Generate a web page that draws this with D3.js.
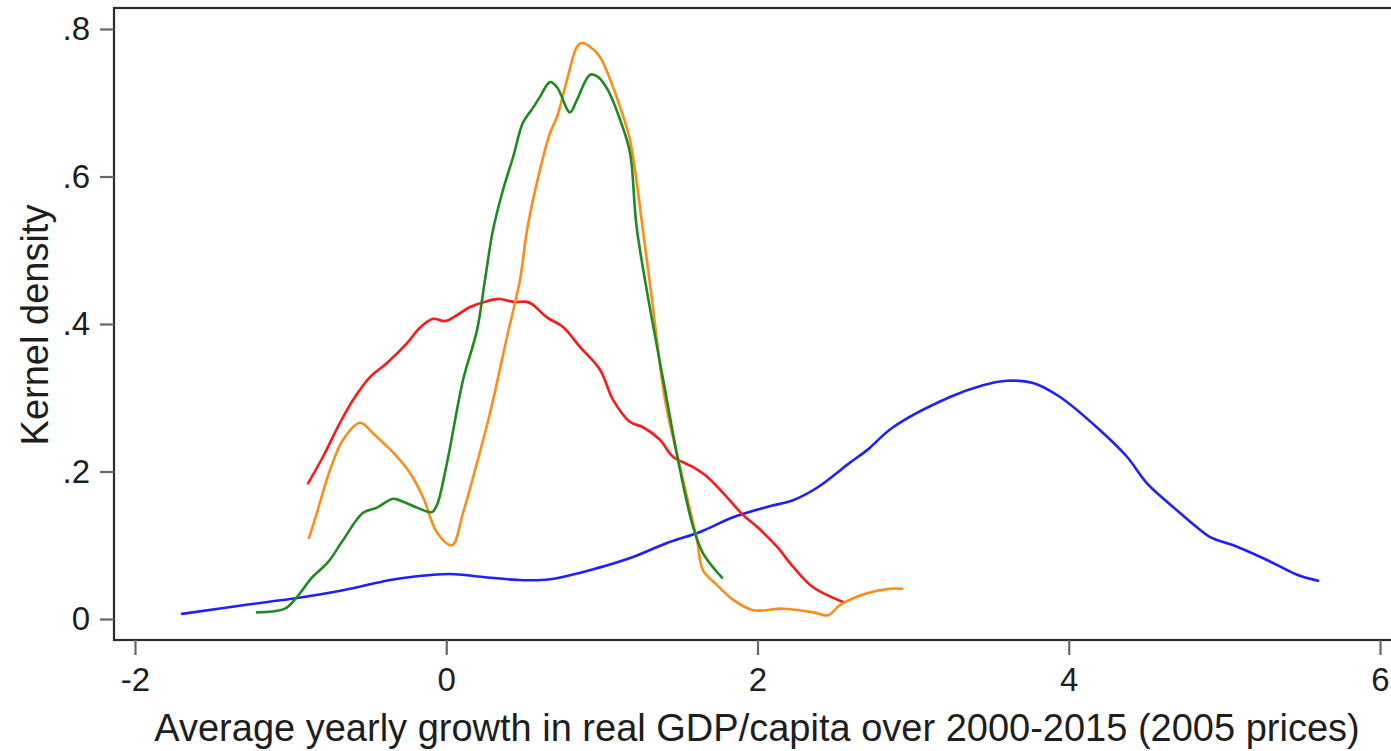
<!DOCTYPE html>
<html>
<head>
<meta charset="utf-8">
<script src="https://cdn.jsdelivr.net/npm/d3@7"></script>
<style>
  html, body { margin: 0; padding: 0; background: #fff; }
  svg { display: block; }
  text { font-family: Arial, "Liberation Sans", sans-serif; fill: #1e1e1e; }
</style>
</head>
<body>
<svg id="chart" width="1391" height="751"></svg>
<script>
// Kernel density estimates of average yearly growth, one series per group
const blueX  = [-1.698,-1.261,-1.004,-0.663,-0.361,-0.188,0.024,0.236,0.455,0.667,0.988,1.2,1.418,1.631,1.843,2.061,2.228,2.382,2.594,2.704,2.871,3.237,3.449,3.603,3.77,3.944,4.201,4.374,4.503,4.67,4.843,4.908,5.081,5.274,5.467,5.602];
const blueY  = [0.007,0.020,0.027,0.039,0.053,0.058,0.061,0.057,0.053,0.054,0.070,0.084,0.103,0.118,0.138,0.152,0.161,0.178,0.212,0.229,0.260,0.301,0.317,0.323,0.320,0.301,0.256,0.220,0.184,0.152,0.121,0.111,0.098,0.080,0.060,0.052];

const redX   = [-0.888,-0.792,-0.683,-0.599,-0.49,-0.381,-0.252,-0.169,-0.085,-0.008,0.069,0.153,0.262,0.345,0.429,0.519,0.557,0.647,0.75,0.859,0.988,1.072,1.181,1.264,1.373,1.457,1.586,1.676,1.804,1.907,1.997,2.125,2.228,2.357,2.549];
const redY   = [0.184,0.220,0.266,0.297,0.328,0.347,0.374,0.395,0.407,0.404,0.412,0.423,0.431,0.434,0.430,0.430,0.426,0.409,0.396,0.369,0.338,0.297,0.267,0.260,0.243,0.220,0.206,0.193,0.165,0.141,0.125,0.098,0.071,0.043,0.023];

const orangeX = [-0.882,-0.831,-0.747,-0.663,-0.554,-0.471,-0.406,-0.342,-0.233,-0.149,-0.059,0.037,0.108,0.198,0.281,0.39,0.474,0.519,0.602,0.667,0.712,0.776,0.84,0.872,0.924,0.988,1.072,1.117,1.181,1.264,1.322,1.406,1.502,1.611,1.65,1.74,1.843,1.971,2.164,2.357,2.453,2.53,2.704,2.851,2.929];
const orangeY = [0.110,0.144,0.202,0.243,0.266,0.252,0.239,0.226,0.198,0.165,0.117,0.100,0.144,0.212,0.279,0.382,0.460,0.527,0.609,0.659,0.681,0.731,0.776,0.781,0.776,0.762,0.721,0.694,0.649,0.527,0.433,0.297,0.206,0.107,0.066,0.046,0.026,0.012,0.014,0.009,0.005,0.019,0.035,0.041,0.041];

const greenX = [-1.216,-1.036,-0.959,-0.863,-0.76,-0.663,-0.535,-0.445,-0.342,-0.278,-0.188,-0.092,-0.059,0.005,0.108,0.198,0.249,0.3,0.365,0.429,0.493,0.557,0.602,0.667,0.712,0.795,0.84,0.924,0.975,1.039,1.117,1.181,1.226,1.418,1.489,1.586,1.65,1.772];
const greenY = [0.009,0.014,0.030,0.056,0.077,0.107,0.144,0.151,0.163,0.159,0.151,0.145,0.155,0.212,0.324,0.392,0.460,0.527,0.582,0.626,0.673,0.693,0.708,0.728,0.721,0.687,0.704,0.738,0.735,0.717,0.677,0.632,0.527,0.297,0.216,0.125,0.089,0.056];

const xTicks = [-2, 0, 2, 4, 6];
const yTicks = [0, 0.2, 0.4, 0.6, 0.8];
const xTitle = "Average yearly growth in real GDP/capita over 2000-2015 (2005 prices)";
const yTitle = "Kernel density";

const seriesList = [
  { xs: blueX,   ys: blueY,   color: "#1f1fff" },
  { xs: redX,    ys: redY,    color: "#ff1a1a" },
  { xs: orangeX, ys: orangeY, color: "#ff8c1a" },
  { xs: greenX,  ys: greenY,  color: "#1f8a1f" }
];

const svg = d3.select("#chart");
const W = 1391, H = 751;
const frame = { left: 114, top: 8, right: 1404, bottom: 640 };

const x = d3.scaleLinear().domain([-2, 6]).range([135, 1380]);
const y = d3.scaleLinear().domain([0, 0.8]).range([619, 29]);

svg.append("rect").attr("width", W).attr("height", H).attr("fill", "#fff");

// plot region outline
svg.append("rect")
  .attr("x", frame.left).attr("y", frame.top)
  .attr("width", frame.right - frame.left).attr("height", frame.bottom - frame.top)
  .attr("fill", "none").attr("stroke", "#2b2b2b").attr("stroke-width", 2.2);

// y axis
const fmtY = d => d === 0 ? "0" : d3.format(".1f")(d).replace(/^0/, "");
const yAxis = svg.append("g")
  .attr("transform", `translate(${frame.left},0)`)
  .call(d3.axisLeft(y).tickValues(yTicks).tickFormat(fmtY).tickSize(14).tickPadding(10));
yAxis.select(".domain").remove();
yAxis.selectAll(".tick line").attr("stroke", "#666").attr("stroke-width", 2.2);
yAxis.selectAll(".tick text").attr("font-size", 33).attr("fill", "#1e1e1e")
  .attr("font-family", "Arial, 'Liberation Sans', sans-serif");

// x axis
const fmtX = d => String(d);
const xAxis = svg.append("g")
  .attr("transform", `translate(0,${frame.bottom})`)
  .call(d3.axisBottom(x).tickValues(xTicks).tickFormat(fmtX).tickSize(15).tickPadding(13));
xAxis.select(".domain").remove();
xAxis.selectAll(".tick line").attr("stroke", "#666").attr("stroke-width", 2.2);
xAxis.selectAll(".tick text").attr("font-size", 33).attr("fill", "#1e1e1e")
  .attr("font-family", "Arial, 'Liberation Sans', sans-serif");

// axis titles
svg.append("text")
  .attr("x", 757).attr("y", 741)
  .attr("text-anchor", "middle")
  .attr("font-size", 38)
  .text(xTitle);

svg.append("text")
  .attr("transform", "translate(48,325) rotate(-90)")
  .attr("text-anchor", "middle")
  .attr("font-size", 38)
  .text(yTitle);

// density curves
const line = d3.line()
  .x(d => x(d[0]))
  .y(d => y(d[1]))
  .curve(d3.curveCatmullRom.alpha(0.5));

svg.append("g").selectAll("path")
  .data(seriesList)
  .join("path")
  .attr("d", s => line(s.xs.map((v, i) => [v, s.ys[i]])))
  .attr("fill", "none")
  .attr("stroke", s => s.color)
  .attr("stroke-width", 2.6)
  .attr("stroke-linejoin", "round")
  .attr("stroke-linecap", "round");
</script>
</body>
</html>
